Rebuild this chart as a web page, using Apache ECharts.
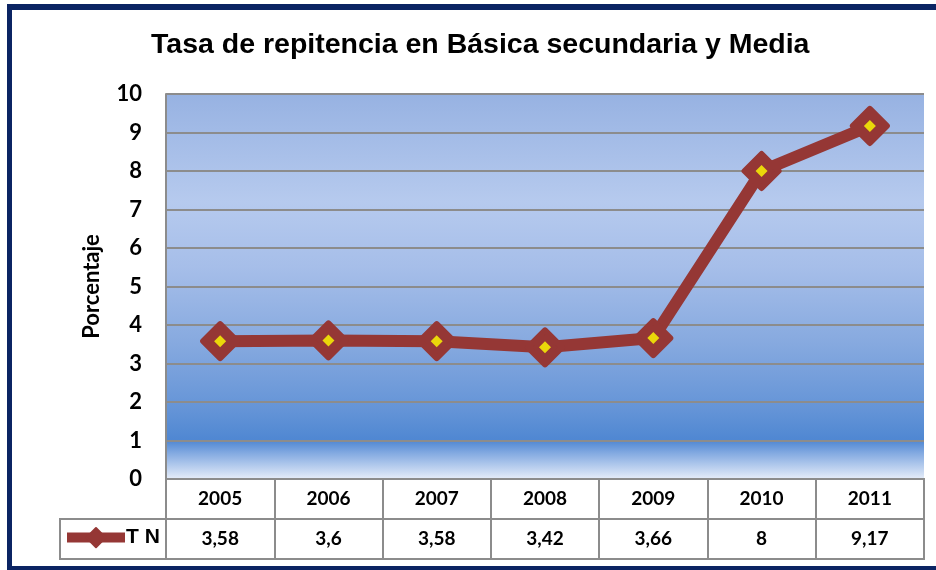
<!DOCTYPE html>
<html>
<head>
<meta charset="utf-8">
<script src="https://cdn.jsdelivr.net/npm/echarts@6/dist/echarts.min.js"></script>
<style>
  html, body { margin: 0; padding: 0; background: #fff; }
  #chart { width: 936px; height: 570px; }
</style>
</head>
<body>
<div id="chart"></div>
<script>
// datos
var years = ['2005', '2006', '2007', '2008', '2009', '2010', '2011'];
var tasa = [3.58, 3.6, 3.58, 3.42, 3.66, 8, 9.17];
var serieName = 'T N';
var yMin = 0, yMax = 10, yStep = 1;

var chart = echarts.init(document.getElementById('chart'));
var gris = '#8c8c8c';
var granate = '#953735';
var navy = '#0b2463';
var numFont = 'Lato, "Open Sans", sans-serif';

// fondo degradado del area de trazado
var fondo = new echarts.graphic.LinearGradient(0, 0, 0, 1, [
  { offset: 0, color: '#97b2e2' },
  { offset: 0.28, color: '#b6caee' },
  { offset: 0.45, color: '#a6bee9' },
  { offset: 0.65, color: '#86a9df' },
  { offset: 0.82, color: '#6494d7' },
  { offset: 0.9, color: '#4f87d2' },
  { offset: 0.93, color: '#7fa7e0' },
  { offset: 1, color: '#e6edf9' }
]);

var option = {
  backgroundColor: '#fff',
  animation: false,
  title: {
    text: 'Tasa de repitencia en Básica secundaria y Media',
    left: 146,
    top: 26,
    textStyle: { fontFamily: '"Liberation Sans", Arial, sans-serif', fontWeight: 'bold', fontSize: 28.5, color: '#000' }
  },
  legend: {
    data: [serieName],
    left: 62,
    top: 527,
    padding: 0,
    itemWidth: 58,
    itemHeight: 24,
    lineStyle: { width: 10 },
    textStyle: { fontFamily: '"Liberation Sans", Arial, sans-serif', fontWeight: 'bold', fontSize: 21, color: '#000', padding: [0, 0, 0, -4] }
  },
  grid: [
    { left: 166, top: 94, right: 12, height: 385, show: true, backgroundColor: fondo, borderWidth: 0 },
    { left: 166, top: 479, right: 12, height: 80, show: true, backgroundColor: '#fff', borderColor: gris, borderWidth: 2 }
  ],
  xAxis: [
    {
      type: 'category', gridIndex: 0, data: years, boundaryGap: true,
      axisLine: { show: false }, axisTick: { show: false },
      axisLabel: { margin: 20, verticalAlign: 'middle', color: '#000', fontWeight: 'bold', fontSize: 19, fontFamily: numFont }
    },
    {
      type: 'category', gridIndex: 1, data: years, boundaryGap: true,
      axisLine: { show: false }, axisTick: { show: false },
      splitLine: { show: true, interval: 0, lineStyle: { color: gris, width: 2 } },
      axisLabel: {
        margin: -20, verticalAlign: 'middle', interval: 0, color: '#000', fontWeight: 'bold', fontSize: 19, fontFamily: numFont,
        formatter: function (v, i) { return String(tasa[i]).replace('.', ','); }
      }
    }
  ],
  yAxis: [
    {
      type: 'value', gridIndex: 0, min: yMin, max: yMax, interval: yStep,
      name: 'Porcentaje', nameLocation: 'middle', nameGap: 63, nameRotate: 90,
      nameTextStyle: { fontFamily: numFont, fontWeight: 'bold', fontSize: 22, color: '#000' },
      axisLine: { show: true, lineStyle: { color: gris, width: 2 } },
      axisTick: { show: false },
      axisLabel: { margin: 24, color: '#000', fontWeight: 'bold', fontSize: 22, fontFamily: numFont },
      splitLine: { show: true, lineStyle: { color: gris, width: 2 } }
    },
    {
      type: 'value', gridIndex: 1, min: 0, max: 2, interval: 1,
      axisLine: { show: true, lineStyle: { color: gris, width: 2 } },
      axisTick: { show: false }, axisLabel: { show: false },
      splitLine: { show: true, lineStyle: { color: gris, width: 2 } }
    }
  ],
  series: [
    {
      name: serieName,
      type: 'line',
      xAxisIndex: 0, yAxisIndex: 0,
      data: tasa,
      symbol: 'diamond',
      symbolSize: 34,
      lineStyle: { color: granate, width: 12 },
      itemStyle: { color: granate, borderColor: granate, borderWidth: 6, borderJoin: 'round' },
      z: 3
    },
    {
      name: 'marca',
      type: 'scatter',
      xAxisIndex: 0, yAxisIndex: 0,
      data: tasa,
      symbol: 'diamond',
      symbolSize: 12,
      itemStyle: { color: '#ffff00' },
      z: 4
    }
  ],
  graphic: [
    // celda de la leyenda
    { type: 'rect', shape: { x: 60, y: 519, width: 106, height: 40 }, style: { fill: 'none', stroke: gris, lineWidth: 2 }, z: 10 },
    // marco exterior
    { type: 'rect', shape: { x: 7, y: 4, width: 929, height: 6 }, style: { fill: navy }, z: 10 },
    { type: 'rect', shape: { x: 7, y: 4, width: 5, height: 566 }, style: { fill: navy }, z: 10 },
    { type: 'rect', shape: { x: 7, y: 566, width: 929, height: 4 }, style: { fill: navy }, z: 10 }
  ]
};
chart.setOption(option);
</script>
</body>
</html>
